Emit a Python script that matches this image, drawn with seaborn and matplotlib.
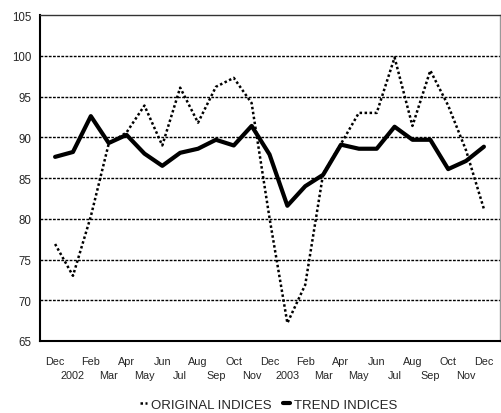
import matplotlib
matplotlib.use("Agg")
import matplotlib.pyplot as plt
import seaborn as sns
import pandas as pd

# months Dec 2001 .. Dec 2003, January shown as the year
month_labels = ["Dec", "2002", "Feb", "Mar", "Apr", "May", "Jun", "Jul", "Aug", "Sep", "Oct", "Nov",
                "Dec", "2003", "Feb", "Mar", "Apr", "May", "Jun", "Jul", "Aug", "Sep", "Oct", "Nov", "Dec"]

original_indices = [76.9, 73.0, 80.3, 89.2, 90.6, 93.9, 89.0, 96.1, 91.8, 96.2, 97.3, 94.2,
                    80.1, 67.2, 71.9, 85.5, 89.2, 93.0, 93.0, 99.8, 91.4, 98.2, 93.9, 88.4, 81.2]
trend_indices = [87.6, 88.2, 92.6, 89.3, 90.3, 88.0, 86.5, 88.1, 88.6, 89.7, 89.0, 91.4,
                 87.9, 81.6, 84.0, 85.4, 89.1, 88.6, 88.6, 91.3, 89.7, 89.7, 86.1, 87.1, 88.85]

df = pd.DataFrame({"month": range(len(month_labels)),
                   "original": original_indices,
                   "trend": trend_indices})

sns.set_style("white")
plt.rcParams["font.family"] = ["Liberation Sans", "DejaVu Sans"]

fig = plt.figure(figsize=(5.01, 4.14), dpi=100)
ax = fig.add_axes([0.08, 0.174, 0.918, 0.787])

# horizontal dotted grid
for v in range(70, 105, 5):
    ax.axhline(v, color="black", lw=1.0, ls=(0, (2, 1)), zorder=1)

sns.lineplot(data=df, x="month", y="original", ax=ax, color="black", lw=1.8,
             linestyle=(0, (1, 1)), label="ORIGINAL INDICES", zorder=3)
sns.lineplot(data=df, x="month", y="trend", ax=ax, color="black", lw=3.0,
             label="TREND INDICES", zorder=4)

ax.set_xlim(-0.84, 24.9)
ax.set_ylim(65, 105)
ax.set_yticks(range(65, 110, 5))
ax.tick_params(axis="y", length=0, labelsize=8.3, pad=6)

# alternate months on two label rows
upper = list(range(0, len(month_labels), 2))
lower = list(range(1, len(month_labels), 2))
ax.set_xticks(upper, [month_labels[i] for i in upper], fontsize=7.8)
ax.set_xticks(lower, [month_labels[i] for i in lower], fontsize=7.8, minor=True)
ax.tick_params(axis="x", which="major", direction="in", length=7, width=1, color="black", pad=11)
ax.tick_params(axis="x", which="minor", direction="in", length=7, width=1, color="black", pad=21)
ax.set_xlabel("")
ax.set_ylabel("")

for side in ["left", "bottom"]:
    ax.spines[side].set_color("black")
    ax.spines[side].set_linewidth(1.5)
ax.spines["top"].set_color("#333333")
ax.spines["top"].set_linewidth(1.0)
ax.spines["right"].set_color("#999999")
ax.spines["right"].set_linewidth(1.0)

ax.legend(loc="upper center", bbox_to_anchor=(0.497, -0.14), ncol=2, frameon=False,
          fontsize=9.5, handlelength=0.55, handletextpad=0.3, columnspacing=0.9)

fig.savefig("out.png", dpi=100)
